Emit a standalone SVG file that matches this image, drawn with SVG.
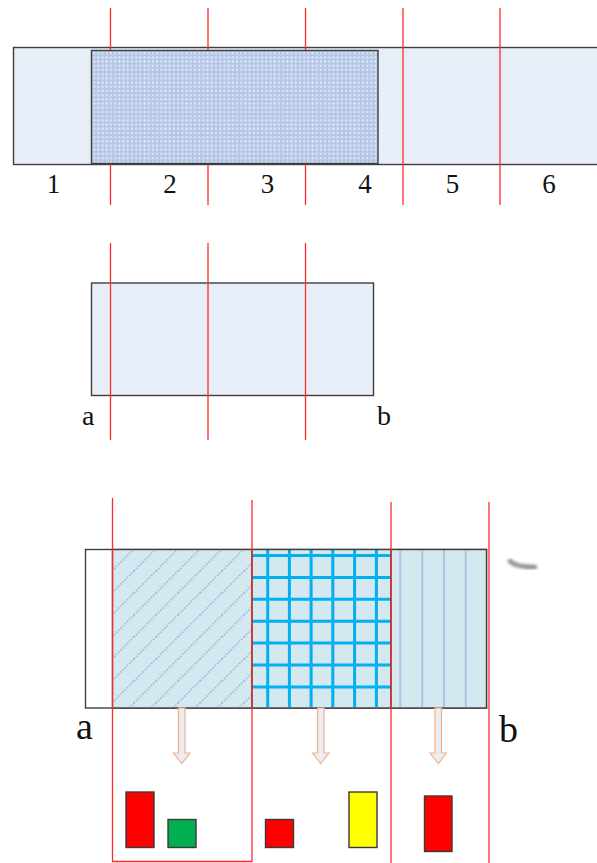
<svg xmlns="http://www.w3.org/2000/svg" width="597" height="863" viewBox="0 0 597 863">
<style>
.red{stroke:#ff2b2b;stroke-width:1.3;fill:none}
.box{stroke:#3f3f3f;stroke-width:1.4}
.lbl{font-family:"Liberation Serif","DejaVu Serif",serif;fill:#111}
.num{font-size:27px;text-anchor:middle}
.grid{stroke:#00b0f0;stroke-width:3}
.vstripe{stroke:#b3c3e3;stroke-width:2}
.arrow{fill:#e9eef6;stroke:#f4b183;stroke-width:1.2}
.blk{stroke:#3a3a3a;stroke-width:1.4}
</style>
<defs>
<pattern id="dots" width="4.2" height="4.2" patternUnits="userSpaceOnUse" x="92" y="51">
<rect width="4.2" height="4.2" fill="#b5c7e6"/>
<rect x="1.2" y="1.2" width="1.9" height="1.9" fill="#e9eff9"/>
</pattern>
<pattern id="diag" width="22" height="22" patternUnits="userSpaceOnUse" x="112" y="549">
<rect width="22" height="22" fill="#d4e9ef"/>
<line x1="0" y1="22" x2="22" y2="0" stroke="#a6b4e4" stroke-width="1.6" stroke-dasharray="1.6 1.4"/>
<line x1="-2" y1="2" x2="2" y2="-2" stroke="#a6b4e4" stroke-width="1.6"/>
<line x1="20" y1="24" x2="24" y2="20" stroke="#a6b4e4" stroke-width="1.6"/>
</pattern>
<filter id="blur" x="-50%" y="-50%" width="200%" height="200%"><feGaussianBlur stdDeviation="1.8"/></filter>
</defs>

<!-- Top diagram -->
<g id="top-strip">
<rect x="13.5" y="47.5" width="590" height="117" fill="#e8eef7" class="box"/>
</g>
<g id="connectors">
<g id="top-lines" class="red">
<line x1="110.5" y1="8" x2="110.5" y2="205"/>
<line x1="208" y1="8" x2="208" y2="205"/>
<line x1="305.5" y1="8" x2="305.5" y2="205"/>
<line x1="403" y1="8" x2="403" y2="205"/>
<line x1="500" y1="8" x2="500" y2="205"/>
</g>
</g>
<g id="top-dotted">
<rect x="91.5" y="50.5" width="286.5" height="113" fill="url(#dots)" class="box"/>
</g>
<g id="top-labels" class="lbl num">
<text x="53.5" y="193">1</text>
<text x="170" y="193">2</text>
<text x="267.5" y="193">3</text>
<text x="365" y="193">4</text>
<text x="452.5" y="193">5</text>
<text x="549" y="193">6</text>
</g>

<!-- Middle diagram -->
<g id="middle-box">
<rect x="91.5" y="283" width="282" height="112.5" fill="#e8eef7" class="box"/>
</g>
<g id="middle-lines" class="red">
<line x1="110.5" y1="243" x2="110.5" y2="440"/>
<line x1="208" y1="243" x2="208" y2="440"/>
<line x1="305.5" y1="243" x2="305.5" y2="440"/>
</g>
<g id="middle-labels" class="lbl" font-size="28">
<text x="82" y="425">a</text>
<text x="377" y="425">b</text>
</g>

<!-- Bottom diagram -->
<g id="bottom-bar">
<rect x="85.5" y="549.5" width="401" height="158.5" fill="#ffffff" class="box"/>
<rect x="112.5" y="549.5" width="139.5" height="158.5" fill="url(#diag)" class="box"/>
<g id="grid-section">
<rect x="252" y="549.5" width="139" height="158.5" fill="#d4e9ef"/>
<g class="grid">
<line x1="267.7" y1="550" x2="267.7" y2="707"/>
<line x1="289.4" y1="550" x2="289.4" y2="707"/>
<line x1="311.1" y1="550" x2="311.1" y2="707"/>
<line x1="332.8" y1="550" x2="332.8" y2="707"/>
<line x1="354.6" y1="550" x2="354.6" y2="707"/>
<line x1="376.4" y1="550" x2="376.4" y2="707"/>
<line x1="252" y1="555.5" x2="391" y2="555.5"/>
<line x1="252" y1="577.4" x2="391" y2="577.4"/>
<line x1="252" y1="599.3" x2="391" y2="599.3"/>
<line x1="252" y1="621.2" x2="391" y2="621.2"/>
<line x1="252" y1="643.1" x2="391" y2="643.1"/>
<line x1="252" y1="665" x2="391" y2="665"/>
<line x1="252" y1="686.9" x2="391" y2="686.9"/>
</g>
<rect x="252" y="549.5" width="139" height="158.5" fill="none" class="box"/>
</g>
<g id="stripe-section">
<rect x="391" y="549.5" width="95.5" height="158.5" fill="#d4e9ef"/>
<g class="vstripe">
<line x1="400.3" y1="550" x2="400.3" y2="707"/>
<line x1="422.3" y1="550" x2="422.3" y2="707"/>
<line x1="444" y1="550" x2="444" y2="707"/>
<line x1="465.7" y1="550" x2="465.7" y2="707"/>
</g>
<rect x="391" y="549.5" width="95.5" height="158.5" fill="none" class="box"/>
</g>
</g>
<g id="bottom-lines" class="red">
<path d="M112.5,498 V861.5 H252"/>
<line x1="252" y1="500" x2="252" y2="862"/>
<line x1="391" y1="502" x2="391" y2="863"/>
<line x1="489" y1="502" x2="489" y2="863"/>
</g>
<g id="arrows">
<path class="arrow" d="M178.5,708 V753 H173.5 L181.7,763.5 L190,753 H185 V708 Z"/>
<path class="arrow" d="M317.5,708 V753 H312.5 L320.7,763.5 L329,753 H324 V708 Z"/>
<path class="arrow" d="M435,708 V753 H430 L438.3,763.5 L446.5,753 H441.5 V708 Z"/>
</g>
<g id="blocks">
<rect id="red1" x="126" y="792" width="28" height="55.5" fill="#ff0000" class="blk"/>
<rect id="green1" x="168" y="819.5" width="28" height="28" fill="#00b050" class="blk"/>
<rect id="red2" x="265.5" y="819.5" width="28" height="28" fill="#ff0000" class="blk"/>
<rect id="yellow1" x="349" y="792" width="28" height="55.5" fill="#ffff00" class="blk"/>
<rect id="red3" x="424.5" y="796" width="27.5" height="55.5" fill="#ff0000" class="blk"/>
</g>
<g id="bottom-labels" class="lbl" font-size="38">
<text x="76" y="739">a</text>
<text x="499" y="742">b</text>
</g>
<g id="smudge">
<path d="M510,561 Q515,567 535,567" stroke="#7a7a7a" stroke-width="4.5" fill="none" stroke-linecap="round" filter="url(#blur)" opacity="0.85"/>
</g>
</svg>
